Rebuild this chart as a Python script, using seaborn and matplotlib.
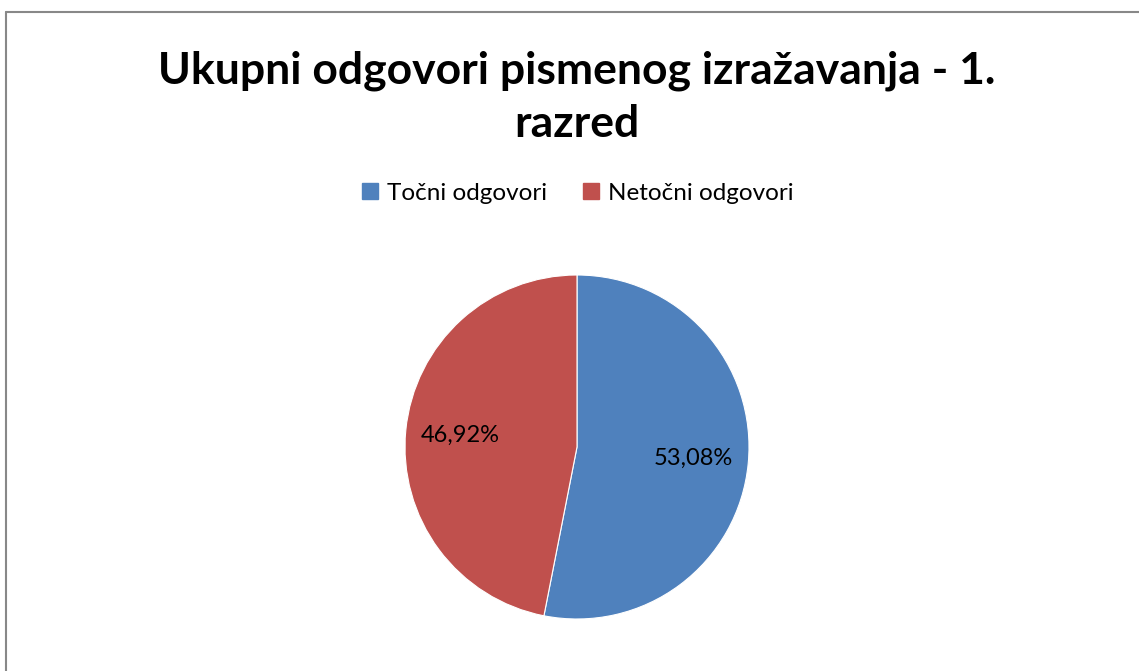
import matplotlib
matplotlib.use("Agg")
import matplotlib.pyplot as plt
import seaborn as sns
from matplotlib.lines import Line2D

# data
categories = ["Točni odgovori", "Netočni odgovori"]
shares = [53.08, 46.92]
colors = ["#4F81BD", "#C0504D"]
title = "Ukupni odgovori pismenog izražavanja - 1.\nrazred"

sns.set_style("white")
plt.rcParams["font.family"] = ["Lato", "DejaVu Sans"]
plt.rcParams["text.color"] = "black"

W, H = 1139, 671
fig = plt.figure(figsize=(W / 100, H / 100), dpi=100)

# pie centred at (577, 447) px, radius 172 px
cx, cy, r = 577, 447, 172
ax = fig.add_axes([(cx - r) / W, (H - cy - r) / H, 2 * r / W, 2 * r / H])

wedges, texts, autotexts = ax.pie(
    shares, colors=colors, startangle=90, counterclock=False, radius=1,
    autopct=lambda p: f"{p:.2f}%".replace(".", ","), pctdistance=0.68,
    wedgeprops=dict(linewidth=0.8, edgecolor="white"),
    textprops=dict(fontsize=17, color="black"),
)
ax.set_xlim(-1, 1)
ax.set_ylim(-1, 1)
ax.set_aspect("equal")
ax.axis("off")

fig.text(cx / W, 1 - 97 / H, title, ha="center", va="center", color="black",
         fontsize=32, fontweight="bold", linespacing=1.38)

handles = [Line2D([0], [0], marker="s", linestyle="none", markersize=11,
                  markerfacecolor=c, markeredgecolor=c) for c in colors]
leg = fig.legend(handles, categories, loc="center", ncol=2,
                 bbox_to_anchor=(cx / W, 1 - 193 / H), frameon=False,
                 fontsize=17.5, handletextpad=0.3, columnspacing=1.4, handlelength=0.8)
for t in leg.get_texts():
    t.set_color("black")

# chart area border (top and left edges visible)
fig.add_artist(Line2D([6 / W, 1], [1 - 12 / H, 1 - 12 / H], color="#888888", linewidth=1.5))
fig.add_artist(Line2D([6 / W, 6 / W], [0, 1 - 12 / H], color="#888888", linewidth=1.5))

fig.savefig("out.png", dpi=100)
